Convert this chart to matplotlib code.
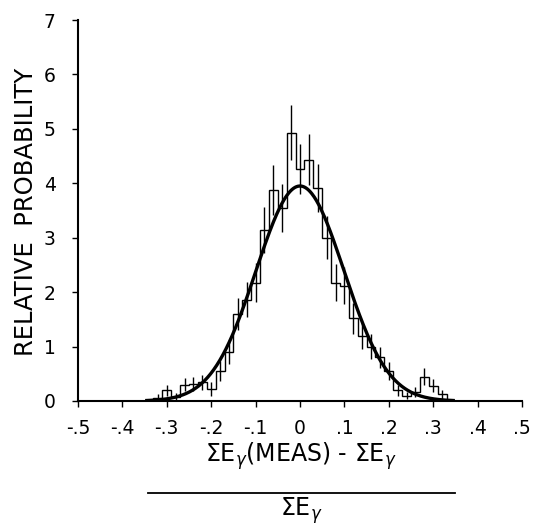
import matplotlib
matplotlib.use("Agg")
import numpy as np
import matplotlib.pyplot as plt
from matplotlib.lines import Line2D

# histogram bins (centres) and measured heights with error bars
bin_centres = [-0.32, -0.30, -0.28, -0.26, -0.24, -0.22, -0.20, -0.18, -0.16, -0.14, -0.12,
               -0.10, -0.08, -0.06, -0.04, -0.02, 0.00, 0.02, 0.04, 0.06, 0.08, 0.10,
               0.12, 0.14, 0.16, 0.18, 0.20, 0.22, 0.24, 0.26, 0.28, 0.30, 0.32]
bin_heights = [0.06, 0.20, 0.08, 0.30, 0.32, 0.34, 0.22, 0.55, 0.90, 1.60, 1.86,
               2.17, 3.14, 3.88, 3.54, 4.93, 4.26, 4.43, 3.91, 3.00, 2.17, 2.12,
               1.52, 1.20, 1.00, 0.80, 0.55, 0.20, 0.10, 0.16, 0.45, 0.28, 0.12]
bin_errors = [0.06, 0.10, 0.07, 0.12, 0.13, 0.14, 0.12, 0.18, 0.22, 0.30, 0.32,
              0.36, 0.42, 0.46, 0.44, 0.50, 0.46, 0.47, 0.44, 0.40, 0.34, 0.34,
              0.28, 0.25, 0.23, 0.20, 0.17, 0.10, 0.07, 0.09, 0.15, 0.12, 0.08]
bin_width = 0.02

# fitted gaussian (amplitude, mean, sigma)
fit_amp = 3.95
fit_mean = 0.0
fit_sigma = 0.099

x_ticks = [-0.5, -0.4, -0.3, -0.2, -0.1, 0.0, 0.1, 0.2, 0.3, 0.4, 0.5]
x_ticklabels = ["-.5", "-.4", "-.3", "-.2", "-.1", "0", ".1", ".2", ".3", ".4", ".5"]
y_ticks = [0, 1, 2, 3, 4, 5, 6, 7]

W, H = 537, 525
fig = plt.figure(figsize=(W / 100, H / 100), dpi=100)
ax = fig.add_axes([78 / W, 1 - 401 / H, 444 / W, 381 / H])

centres = np.array(bin_centres)
edges = np.append(centres - bin_width / 2, centres[-1] + bin_width / 2)
ax.stairs(bin_heights, edges, baseline=0, color="black", lw=1.0)
ax.errorbar(centres, bin_heights, yerr=bin_errors, fmt="none", ecolor="black",
            elinewidth=1.0, capsize=0)

xs = np.linspace(-0.345, 0.345, 400)
ax.plot(xs, fit_amp * np.exp(-(xs - fit_mean) ** 2 / (2 * fit_sigma ** 2)),
        color="black", lw=2.4)

ax.set_xlim(-0.5, 0.5)
ax.set_ylim(0, 7)
ax.set_xticks(x_ticks)
ax.set_xticklabels(x_ticklabels)
ax.set_yticks(y_ticks)
ax.tick_params(direction="out", length=4, width=1, labelsize=13.5, colors="black")
ax.tick_params(axis="x", pad=9)
ax.tick_params(axis="y", pad=12)
ax.spines["top"].set_visible(False)
ax.spines["right"].set_visible(False)
for s in ("left", "bottom"):
    ax.spines[s].set_linewidth(1.5)

# labels
fig.text(26 / W, 1 - 212 / H, "RELATIVE  PROBABILITY", rotation=90,
         ha="center", va="center", fontsize=17.5)
fig.text(301 / W, 1 - 456 / H, r"$\Sigma$E$_\gamma$(MEAS) - $\Sigma$E$_\gamma$",
         ha="center", va="center", fontsize=17)
fig.add_artist(Line2D([148 / W, 455 / W], [1 - 493 / H, 1 - 493 / H],
                      color="black", lw=1.3))
fig.text(301 / W, 1 - 511 / H, r"$\Sigma$E$_\gamma$", ha="center", va="center",
         fontsize=17)

fig.savefig("out.png", dpi=100)
